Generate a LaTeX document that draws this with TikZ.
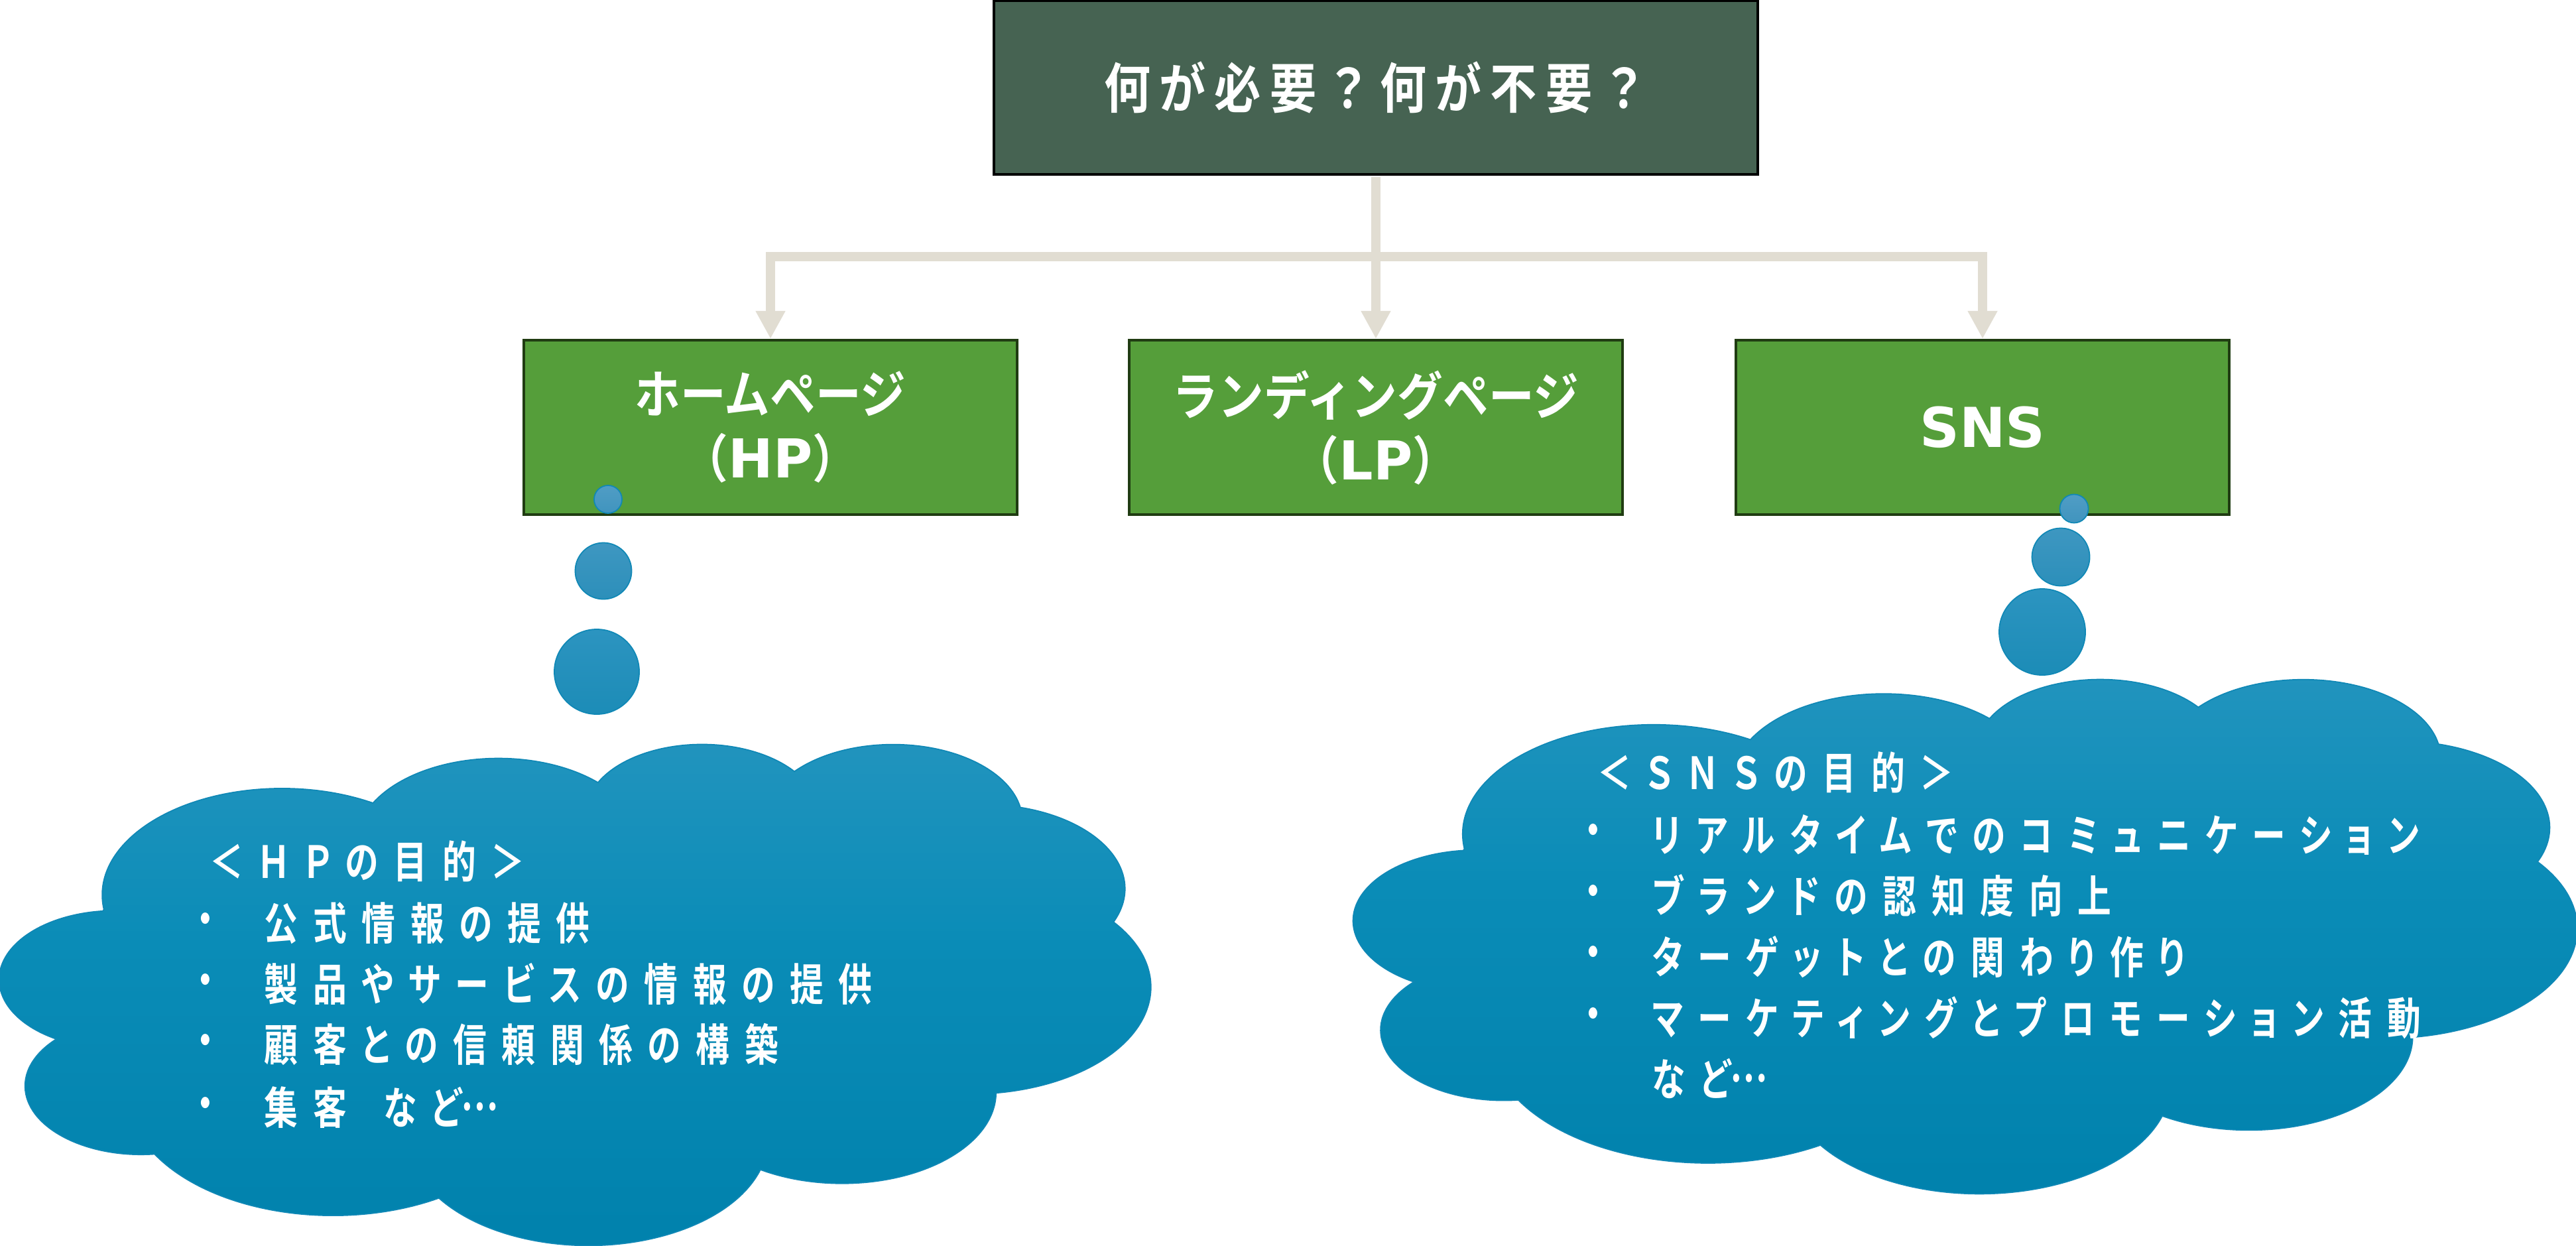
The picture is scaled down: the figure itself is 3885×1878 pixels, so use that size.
\documentclass[tikz,border=0pt]{standalone}
\usepackage{fontspec}
\usetikzlibrary{arrows.meta}
\newfontfamily\jptop{Noto Sans CJK JP}[UprightFont=* Bold, FakeStretch=0.86, LetterSpace=16]
\newfontfamily\jpbox{Noto Sans CJK JP}[UprightFont=* Bold, FakeStretch=0.88]
\newfontfamily\jpcloud{Noto Sans CJK JP}[UprightFont=* Bold, FakeStretch=0.76, LetterSpace=34, RawFeature=+palt]
\newfontfamily\latbox{DejaVu Sans}[UprightFont=* Bold]
\definecolor{topfill}{RGB}{70,99,82}
\definecolor{gfill}{RGB}{85,158,58}
\definecolor{gedge}{RGB}{32,60,18}
\definecolor{conncol}{RGB}{225,221,210}
\definecolor{cbot}{RGB}{0,129,172}
\definecolor{cmid}{RGB}{10,140,183}
\definecolor{ctop}{RGB}{34,148,190}
\definecolor{cedge}{RGB}{16,136,182}
\definecolor{bat}{RGB}{80,157,197}
\definecolor{bab}{RGB}{64,148,190}
\definecolor{bbt}{RGB}{62,151,193}
\definecolor{bbb}{RGB}{44,143,186}
\definecolor{bct}{RGB}{44,148,192}
\definecolor{bcb}{RGB}{28,140,183}
\pgfdeclareverticalshading{cloudsh}{100bp}{color(0bp)=(cbot); color(25bp)=(cbot); color(55bp)=(cmid); color(75bp)=(ctop); color(100bp)=(ctop)}
\newcommand{\cloudshape}{(3.900,14.370)
 arc[start angle=-187.746, delta angle=128.116, x radius=6.753, y radius=9.190]
 arc[start angle=-152.01, delta angle=106.56, x radius=5.333, y radius=7.267]
 arc[start angle=-153.49, delta angle=116.14, x radius=4.365, y radius=5.945]
 arc[start angle=-139.70, delta angle=129.49, x radius=4.857, y radius=6.595]
 arc[start angle=-74.77, delta angle=97.98, x radius=5.333, y radius=7.273]
 arc[start angle=-37.55, delta angle=119.41, x radius=6.775, y radius=9.220]
 arc[start angle=0.46, delta angle=121.51, x radius=5.785, y radius=7.867]
 arc[start angle=16.85, delta angle=129.38, x radius=6.752, y radius=9.215]
 arc[start angle=58.98, delta angle=91.19, x radius=7.720, y radius=10.543]
 arc[start angle=-276.69, delta angle=139.80, x radius=4.360, y radius=5.918]
 arc[start angle=-239.65, delta angle=143.76, x radius=4.345, y radius=5.945]
 -- cycle}
\newcommand{\middots}{\raisebox{0.3em}{…}}
\tikzset{
  topbox/.style={rectangle, fill=topfill, draw=black, line width=0.04cm,
    minimum width=11.52cm, minimum height=2.61cm, inner sep=0pt, text=white,
    font=\jptop\fontsize{23.2}{27}\selectfont},
  gbox/.style={rectangle, fill=gfill, draw=gedge, line width=0.04cm,
    minimum width=7.44cm, minimum height=2.63cm, inner sep=0pt, text=white, align=center,
    font=\jpbox\fontsize{22.2}{27.6}\selectfont},
  conn/.style={draw=conncol, line width=0.14cm, -{Triangle[width=0.42cm,length=0.42cm]}},
  bub/.style={circle, inner sep=0pt, draw=cedge, line width=0.5pt},
  ctext/.style={anchor=base west, inner sep=0pt, text=white,
    font=\jpcloud\fontsize{19}{22}\selectfont},
  cbul/.style={anchor=center, inner sep=0pt, text=white,
    font=\jpcloud\fontsize{19}{22}\selectfont},
  cloudbody/.style={shading=cloudsh, draw=cedge, line width=0.5pt}
}
\begin{document}
\begin{tikzpicture}[x=0.01cm, y=-0.01cm]
\useasboundingbox (0,0) rectangle (3885,1878);
\fill[white] (0,0) rectangle (3885,1878);
% boxes
\node[topbox] (top) at (2075,132) {何が必要？何が不要？};
\node[gbox] (hp) at (1162,644.5) {ホームページ\\（{\latbox\fontsize{23}{27.6}\selectfont HP}）};
\node[gbox] (lp) at (2075,644.5) {ランディングページ\\（{\latbox\fontsize{23}{27.6}\selectfont LP}）};
\node[gbox] (sns) at (2990,644.5) {{\latbox\fontsize{23.6}{27.6}\selectfont SNS}};
% connectors
\coordinate (bus) at (2075,387);
\draw[conn, shorten <=0.02cm] (top.south) -- (lp.north);
\draw[conn, shorten <=0.02cm] (top.south) -- (bus) -| (hp.north);
\draw[conn, shorten <=0.02cm] (top.south) -- (bus) -| (sns.north);
% left callout
\node[bub, minimum size=0.42cm, top color=bat, bottom color=bab] (hpb1) at (917,753) {};
\node[bub, minimum size=0.85cm, top color=bbt, bottom color=bbb] (hpb2) at (910,861) {};
\node[bub, minimum size=1.28cm, top color=bct, bottom color=bcb] (hpb3) at (900,1013) {};
\begin{scope}[shift={(0,1120)}, x=1cm, y=1cm, xscale=0.40139, yscale=-0.17477]
\path[cloudbody] \cloudshape;
\end{scope}
% right callout
\node[bub, minimum size=0.43cm, top color=bat, bottom color=bab] (snsb1) at (3128,767) {};
\node[bub, minimum size=0.87cm, top color=bbt, bottom color=bbb] (snsb2) at (3108,840) {};
\node[bub, minimum size=1.30cm, top color=bct, bottom color=bcb] (snsb3) at (3080,953) {};
\begin{scope}[shift={(2042,1022)}, x=1cm, y=1cm, xscale=0.42662, yscale=-0.17940]
\path[cloudbody] \cloudshape;
\end{scope}
% left cloud text
\node[ctext] (hph) at (316,1324) {＜ＨＰの目的＞};
\node[cbul] (hpd1) at (310,1393) {・};
\node[ctext] (hpt1) at (398,1417) {公式情報の提供};
\node[cbul] (hpd2) at (310,1485) {・};
\node[ctext] (hpt2) at (398,1509) {製品やサービスの情報の提供};
\node[cbul] (hpd3) at (310,1576) {・};
\node[ctext] (hpt3) at (398,1600) {顧客との信頼関係の構築};
\node[cbul] (hpd4) at (310,1671) {・};
\node[ctext] (hpt4) at (398,1695) {集客\hspace*{0.55cm}など\middots};
% right cloud text
\node[ctext] (snsh) at (2409,1190) {＜ＳＮＳの目的＞};
\node[cbul] (snsd1) at (2403,1260) {・};
\node[ctext] (snst1) at (2491,1284) {リアルタイムでのコミュニケーション};
\node[cbul] (snsd2) at (2403,1352) {・};
\node[ctext] (snst2) at (2491,1376) {ブランドの認知度向上};
\node[cbul] (snsd3) at (2403,1444) {・};
\node[ctext] (snst3) at (2491,1468) {ターゲットとの関わり作り};
\node[cbul] (snsd4) at (2403,1536) {・};
\node[ctext] (snst4) at (2491,1560) {マーケティングとプロモーション活動};
\node[ctext] (snst5) at (2491,1652) {など\middots};
\end{tikzpicture}
\end{document}
